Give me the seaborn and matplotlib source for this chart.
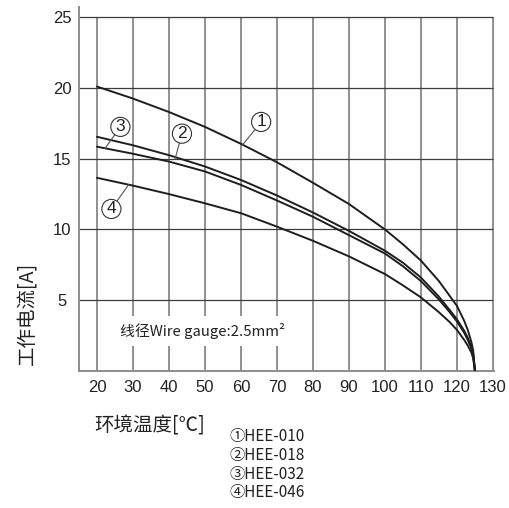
import matplotlib
matplotlib.use("Agg")
import matplotlib.pyplot as plt
import seaborn as sns
import pandas as pd

# ---- data ----
temps = [20, 30, 40, 50, 60, 70, 80, 90, 100, 105, 110, 115, 118, 120, 122, 123, 124, 124.5, 125]
hee_010 = [20.1, 19.25, 18.3, 17.25, 16.05, 14.75, 13.3, 11.8, 10.0, 8.95, 7.8, 6.35, 5.3, 4.6, 3.55, 2.9, 2.05, 1.45, 0.0]
hee_018 = [16.55, 15.95, 15.25, 14.45, 13.5, 12.4, 11.2, 9.9, 8.5, 7.65, 6.6, 5.25, 4.3, 3.65, 2.85, 2.35, 1.7, 1.2, 0.0]
hee_032 = [15.85, 15.35, 14.8, 14.1, 13.15, 12.05, 10.9, 9.6, 8.3, 7.4, 6.35, 5.05, 4.15, 3.5, 2.7, 2.2, 1.6, 1.15, 0.0]
hee_046 = [13.65, 13.1, 12.5, 11.85, 11.15, 10.2, 9.2, 8.1, 6.85, 6.05, 5.2, 4.15, 3.45, 2.9, 2.2, 1.8, 1.3, 0.9, 0.0]
series_names = ["①HEE-010", "②HEE-018", "③HEE-032", "④HEE-046"]
x_ticks = [20, 30, 40, 50, 60, 70, 80, 90, 100, 110, 120, 130]
y_ticks = [5, 10, 15, 20, 25]
x_label = "环境温度[℃]"
y_label = "工作电流[A]"
note = "线径Wire gauge:2.5mm²"

rows = []
for name, vals in zip(series_names, [hee_010, hee_018, hee_032, hee_046]):
    for t, v in zip(temps, vals):
        rows.append({"temp": t, "current": v, "series": name})
df = pd.DataFrame(rows)

sns.set_theme(style="white")
plt.rcParams["font.family"] = ["Noto Sans CJK SC", "DejaVu Sans"]

W, H = 510, 508
fig = plt.figure(figsize=(W / 100, H / 100), dpi=100)
ax = fig.add_axes([79 / W, (H - 371) / H, (494.4 - 79) / W, 363.7 / H])
ax.set_xlim(15, 130.4)
ax.set_ylim(0, 25.7)

# grid
ax.vlines(x_ticks, 0, 25, colors="#7d7d7d", linewidth=1.2, zorder=1)
ax.hlines(y_ticks, 15, 130, colors="#3c3c3c", linewidth=0.9, zorder=1)

sns.lineplot(data=df, x="temp", y="current", hue="series", sort=False,
             palette=["#1e1e1e"] * 4, linewidth=1.4, legend=False, ax=ax,
             estimator=None, zorder=3)

for s in ["top", "right"]:
    ax.spines[s].set_visible(False)
for s in ["left", "bottom"]:
    ax.spines[s].set_color("#8c8c8c")
    ax.spines[s].set_linewidth(1.4)

ax.set_xticks(x_ticks)
ax.set_yticks(y_ticks)
ax.set_xticklabels([str(t) for t in x_ticks], family="Liberation Sans", fontsize=12, color="#222222")
ax.set_yticklabels([str(t) for t in y_ticks], family="Liberation Sans", fontsize=12, color="#222222", ha="center")
ax.tick_params(axis="x", length=0, pad=6.5)
ax.tick_params(axis="y", length=0, pad=12.2)
ax.set_xlabel("")
ax.set_ylabel("")

fig.text(28 / W, 1 - 313 / H, y_label, rotation=90, ha="center", va="center", fontsize=14, color="#222222")
fig.text(150 / W, 1 - 426 / H, x_label, ha="center", va="center", fontsize=14, color="#222222")

ax.text(49.2, 2.83, note, ha="center", va="center", fontsize=10.7, color="#222222", zorder=5,
        bbox=dict(boxstyle="square,pad=0.45", fc="white", ec="none"))

# circled labels with leader lines
labels = [("1", (60.5, 16.0), (65.6, 17.6)),
          ("2", (41.7, 15.0), (43.6, 16.77)),
          ("3", (22.2, 15.72), (26.5, 17.25)),
          ("4", (28.8, 13.17), (24.0, 11.45))]
for txt, xy, xyt in labels:
    ax.annotate(txt, xy=xy, xytext=xyt, ha="center", va="center", fontsize=12.5,
                family="Liberation Sans", color="#222222", zorder=6,
                bbox=dict(boxstyle="circle,pad=0.12", fc="white", ec="#333333", lw=0.8),
                arrowprops=dict(arrowstyle="-", color="#555555", lw=0.8, shrinkA=0, shrinkB=0))

for i, name in enumerate(series_names):
    fig.text(229 / W, 1 - (437 + 18.5 * i) / H, name, ha="left", va="center", fontsize=11, color="#222222")

fig.savefig("out.png", dpi=100)
